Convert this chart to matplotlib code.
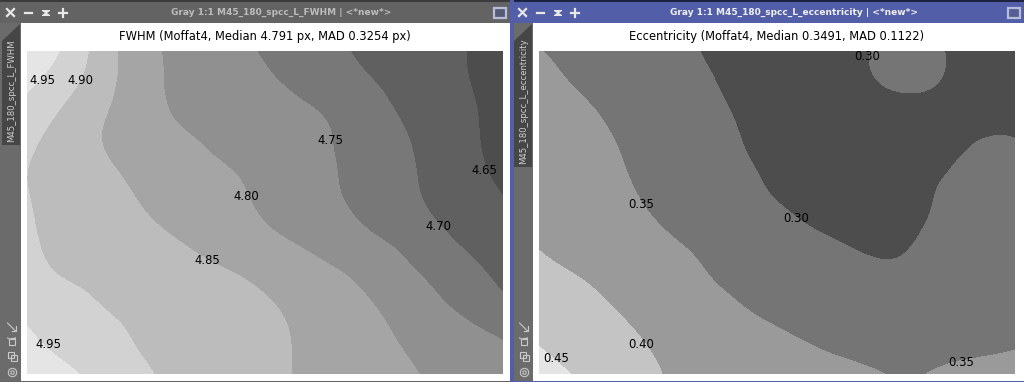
import numpy as np
import matplotlib
matplotlib.use('Agg')
import matplotlib.pyplot as plt
import matplotlib.tri as mtri
from matplotlib.patches import Rectangle, Polygon

# FWHM map, rows top to bottom, columns left to right
fwhm_map = [
    [5.000, 4.943, 4.879, 4.824, 4.792, 4.773, 4.755, 4.736, 4.715, 4.697, 4.681, 4.666, 4.650, 4.630],
    [4.960, 4.918, 4.871, 4.824, 4.794, 4.779, 4.765, 4.749, 4.730, 4.710, 4.691, 4.671, 4.652, 4.630],
    [4.928, 4.891, 4.855, 4.825, 4.799, 4.787, 4.775, 4.763, 4.751, 4.728, 4.703, 4.680, 4.658, 4.630],
    [4.906, 4.879, 4.852, 4.833, 4.816, 4.798, 4.784, 4.770, 4.756, 4.737, 4.713, 4.688, 4.662, 4.630],
    [4.900, 4.881, 4.862, 4.844, 4.828, 4.812, 4.797, 4.778, 4.760, 4.739, 4.716, 4.692, 4.668, 4.642],
    [4.903, 4.886, 4.871, 4.854, 4.838, 4.821, 4.805, 4.786, 4.767, 4.747, 4.724, 4.700, 4.679, 4.657],
    [4.905, 4.891, 4.879, 4.866, 4.854, 4.839, 4.823, 4.806, 4.788, 4.768, 4.748, 4.721, 4.695, 4.672],
    [4.917, 4.899, 4.889, 4.879, 4.869, 4.859, 4.848, 4.831, 4.814, 4.795, 4.770, 4.745, 4.718, 4.690],
    [4.941, 4.921, 4.902, 4.890, 4.880, 4.870, 4.860, 4.848, 4.829, 4.811, 4.790, 4.765, 4.741, 4.715],
    [4.958, 4.937, 4.918, 4.898, 4.887, 4.875, 4.864, 4.853, 4.836, 4.819, 4.802, 4.785, 4.768, 4.751],
    [4.985, 4.960, 4.935, 4.909, 4.892, 4.879, 4.866, 4.853, 4.839, 4.825, 4.810, 4.796, 4.781, 4.767],
]
fwhm_levels = [4.0, 4.65, 4.70, 4.75, 4.80, 4.85, 4.90, 4.95, 6.0]
fwhm_colors = ['#4d4d4d', '#606060', '#787878', '#909090', '#a5a5a5', '#bcbcbc', '#d2d2d2', '#e5e5e5']
fwhm_labels = ['4.95', '4.90', '4.75', '4.65', '4.80', '4.70', '4.85', '4.95']
fwhm_label_x = [42, 80, 330, 484, 246, 438, 207, 48]
fwhm_label_y = [80, 80, 141, 171, 196, 227, 260, 345]

# eccentricity map
ecc_map = [
    [.351, .340, .328, .317, .305, .294, .290, .288, .290, .299, .318, .302, .283, .282],
    [.360, .348, .335, .323, .311, .298, .287, .282, .283, .295, .306, .298, .286, .289],
    [.367, .358, .345, .331, .318, .304, .291, .283, .279, .280, .285, .285, .288, .294],
    [.375, .363, .352, .338, .324, .309, .295, .285, .278, .276, .278, .288, .303, .303],
    [.383, .370, .357, .343, .330, .315, .301, .288, .280, .277, .282, .300, .309, .311],
    [.391, .377, .364, .350, .337, .324, .311, .298, .286, .282, .288, .306, .317, .319],
    [.398, .385, .374, .361, .349, .338, .327, .315, .304, .294, .297, .313, .322, .327],
    [.414, .401, .388, .374, .360, .346, .336, .325, .316, .310, .308, .318, .326, .333],
    [.431, .416, .401, .387, .374, .360, .346, .335, .325, .319, .317, .325, .333, .341],
    [.447, .430, .414, .398, .387, .376, .364, .353, .342, .335, .333, .337, .342, .347],
    [.470, .447, .426, .405, .394, .386, .378, .370, .362, .354, .347, .354, .360, .362],
]
ecc_levels = [0.0, 0.30, 0.35, 0.40, 0.45, 1.0]
ecc_colors = ['#4d4d4d', '#757575', '#9a9a9a', '#c4c4c4', '#e5e5e5']
ecc_labels = ['0.30', '0.35', '0.30', '0.40', '0.45', '0.35']
ecc_label_x = [867, 641, 796, 641, 556, 961]
ecc_label_y = [57, 205, 219, 344, 358, 363]

title_left = 'FWHM (Moffat4, Median 4.791 px, MAD 0.3254 px)'
title_right = 'Eccentricity (Moffat4, Median 0.3491, MAD 0.1122)'
win_left = 'Gray 1:1 M45_180_spcc_L_FWHM | <*new*>'
win_right = 'Gray 1:1 M45_180_spcc_L_eccentricity | <*new*>'
tab_left = 'M45_180_spcc_L_FWHM'
tab_right = 'M45_180_spcc_L_eccentricity'

W, H = 1024, 382
fig = plt.figure(figsize=(W / 100, H / 100), dpi=100)
bg = fig.add_axes([0, 0, 1, 1], zorder=0)
bg.set_xlim(0, W)
bg.set_ylim(H, 0)
bg.axis('off')


def rect(x0, y0, x1, y1, color):
    bg.add_patch(Rectangle((x0, y0), x1 - x0, y1 - y0, fc=color, ec='none'))


def window(x0, x1, bar, strip, win_title, win_color, tab, tab_end, title_x, button_fill):
    rect(x0, 0, x1, 2, strip)
    rect(x0, 2, x1, H, '#6b6b6b')
    rect(x0, 2, x1, 22.5, bar)
    rect(x0 + 20.5, 22.5, x1, 381, 'white')
    rect(x0, 381, x1, H, bar)
    # tab with cut corner
    bg.add_patch(Polygon([(x0 + 2, 41), (x0 + 20, 24), (x0 + 20, tab_end), (x0 + 2, tab_end)], fc='#464646', ec='none'))
    bg.text(x0 + 12, tab_end - 3, tab, rotation=90, ha='center', va='bottom', fontsize=6.1, color='#d0d0d0')
    # title bar buttons
    c = '#e8e8e8'
    bg.plot([x0 + 7, x0 + 14], [9, 16], color=c, lw=1.6)
    bg.plot([x0 + 7, x0 + 14], [16, 9], color=c, lw=1.6)
    bg.plot([x0 + 24.5, x0 + 32], [12.5, 12.5], color=c, lw=1.6)
    bg.add_patch(Polygon([(x0 + 42, 10), (x0 + 50, 10), (x0 + 50, 11), (x0 + 47, 13), (x0 + 50, 15), (x0 + 50, 16),
                          (x0 + 42, 16), (x0 + 42, 15), (x0 + 45, 13), (x0 + 42, 11)], fc=c, ec='none'))
    bg.plot([x0 + 59, x0 + 67], [12.5, 12.5], color=c, lw=1.6)
    bg.plot([x0 + 63, x0 + 63], [8.5, 16.5], color=c, lw=1.6)
    bg.add_patch(Rectangle((x1 - 16, 7.5), 12, 10, fc=button_fill, ec='#b7bdd8', lw=1.6))
    bg.text(title_x, 12, win_title, ha='center', va='center', fontsize=6.5, fontweight='bold', color=win_color)
    # bottom left icons
    ix = x0 + 11.5
    bg.plot([ix - 4, ix + 4], [323, 331], color='#c8c8c8', lw=0.8)
    bg.plot([ix + 4, ix + 4, ix], [326, 331, 331], color='#c8c8c8', lw=0.8)
    bg.add_patch(Rectangle((ix - 3, 339), 6, 6, fc='none', ec='#c8c8c8', lw=0.8))
    bg.plot([ix - 4, ix - 2, ix + 4, ix + 2], [338, 339, 338, 339], color='#c8c8c8', lw=0.8)
    bg.add_patch(Rectangle((ix - 4, 352), 6, 6, fc='none', ec='#c8c8c8', lw=0.8))
    bg.add_patch(Rectangle((ix - 1, 355), 6, 6, fc='none', ec='#c8c8c8', lw=0.8))
    bg.plot([ix], [372], marker='o', ms=6, mfc='none', mec='#c8c8c8', mew=0.8)
    bg.plot([ix], [372], marker='o', ms=2.5, mfc='none', mec='#c8c8c8', mew=0.8)


window(0, 510, '#636363', '#3a3a3a', win_left, '#bcbcbc', tab_left, 145, 281, '#565c78')
window(512, 1024, '#525fa8', '#1c2340', win_right, '#f0f0f0', tab_right, 167, 794, '#565f95')
rect(510, 0, 514, H, '#525fa8')
rect(510, 381, 514, H, '#525fa8')


def contour_panel(x0, x1, y0, y1, z, levels, colors, labels, lx, ly, title):
    ax = fig.add_axes([x0 / W, 1 - y1 / H, (x1 - x0) / W, (y1 - y0) / H], zorder=1)
    z = np.array(z)
    xs = np.linspace(x0, x1, z.shape[1])
    ys = np.linspace(y0, y1, z.shape[0])
    X, Y = np.meshgrid(xs, ys)
    tri = mtri.Triangulation(X.ravel(), Y.ravel())
    tri_f, z_f = mtri.UniformTriRefiner(tri).refine_field(z.ravel(), subdiv=3)
    ax.tricontourf(tri_f, z_f, levels=levels, colors=colors)
    ax.set_xlim(x0, x1)
    ax.set_ylim(y1, y0)
    ax.axis('off')
    for s, x, y in zip(labels, lx, ly):
        ax.text(x, y, s, ha='center', va='center', fontsize=8.4, color='black', clip_on=False)
    bg.text((x0 + x1) / 2 - 0.5, 36.5, title, ha='center', va='center', fontsize=8.3, color='black')


contour_panel(27, 503, 51, 374, fwhm_map, fwhm_levels, fwhm_colors, fwhm_labels, fwhm_label_x, fwhm_label_y, title_left)
contour_panel(539, 1015, 51, 374, ecc_map, ecc_levels, ecc_colors, ecc_labels, ecc_label_x, ecc_label_y, title_right)

fig.savefig('out.png', dpi=100)
plt.close()
